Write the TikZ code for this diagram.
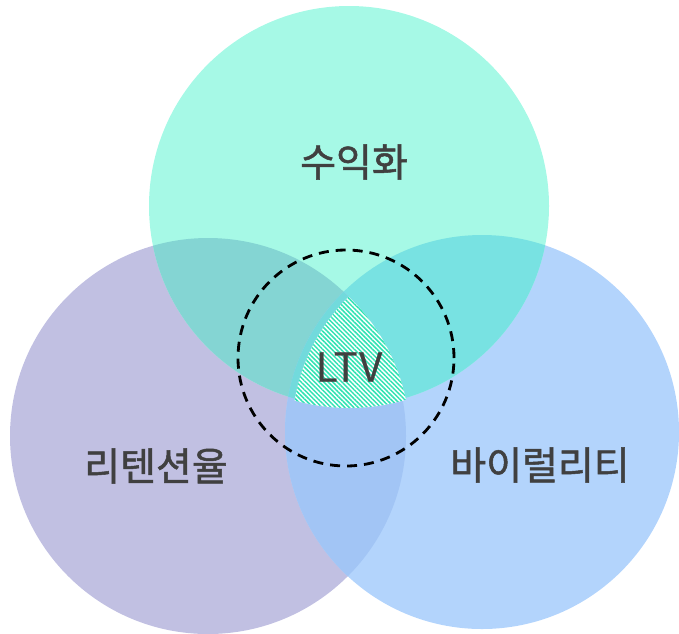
\documentclass[tikz,border=0pt]{standalone}
\usepackage{fontspec}
\newfontfamily\kr[FakeBold=1.3]{Noto Sans CJK KR}
\newfontfamily\krl[LetterSpace=4,FakeBold=0.6]{Noto Sans CJK KR}
\usetikzlibrary{patterns.meta}
\definecolor{cTop}{HTML}{A6F9E6}
\definecolor{cLeft}{HTML}{C1C0E2}
\definecolor{cRight}{HTML}{B3D4FC}
\definecolor{cTL}{HTML}{84D5D3}
\definecolor{cTR}{HTML}{78E2E2}
\definecolor{cLR}{HTML}{A2C5F5}
\definecolor{cAll}{HTML}{72DADC}
\definecolor{cHatch}{HTML}{30E3B3}
\definecolor{cText}{HTML}{404040}
\tikzset{
  lbl/.style={font=\kr\fontsize{39}{43}\selectfont, text=cText, inner sep=0pt},
  ltv/.style={font=\krl\fontsize{40}{44}\selectfont, text=cText, inner sep=0pt},
  dashcircle/.style={draw=black, line width=2.8pt, dash pattern=on 10pt off 7pt}
}
\begin{document}
\begin{tikzpicture}[x=1pt,y=-1pt]
\useasboundingbox (0,0) rectangle (679,633);
\def\TOP{(349,206) circle (200)}
\def\LEFT{(208,436) circle (198)}
\def\RIGHT{(482,432) circle (197)}
\fill[cLeft] \LEFT;
\fill[cRight] \RIGHT;
\fill[cTop] \TOP;
\begin{scope}\clip \TOP; \fill[cTL] \LEFT; \end{scope}
\begin{scope}\clip \TOP; \fill[cTR] \RIGHT; \end{scope}
\begin{scope}\clip \LEFT; \fill[cLR] \RIGHT; \end{scope}
\begin{scope}\clip \TOP; \clip \LEFT; \fill[cAll] \RIGHT; \end{scope}
\begin{scope}
  \clip (349,208) circle (200);
  \clip (212,440) circle (198);
  \clip (482,432) circle (190);
  \fill[white] (200,250) rectangle (500,450);
  \fill[pattern={Lines[angle=-45,distance=3.2pt,line width=1.5pt]}, pattern color=cHatch] (200,250) rectangle (500,450);
\end{scope}
\node[dashcircle, circle, minimum size=216pt, inner sep=0pt] (core) at (346,358) {};
\node[lbl] (mon) at (354,162) {수익화};
\node[lbl] (ret) at (156,466) {리텐션율};
\node[lbl] (vir) at (540,465) {바이럴리티};
\node[ltv] (ltvlbl) at (349,367) {LTV};
\end{tikzpicture}
\end{document}
